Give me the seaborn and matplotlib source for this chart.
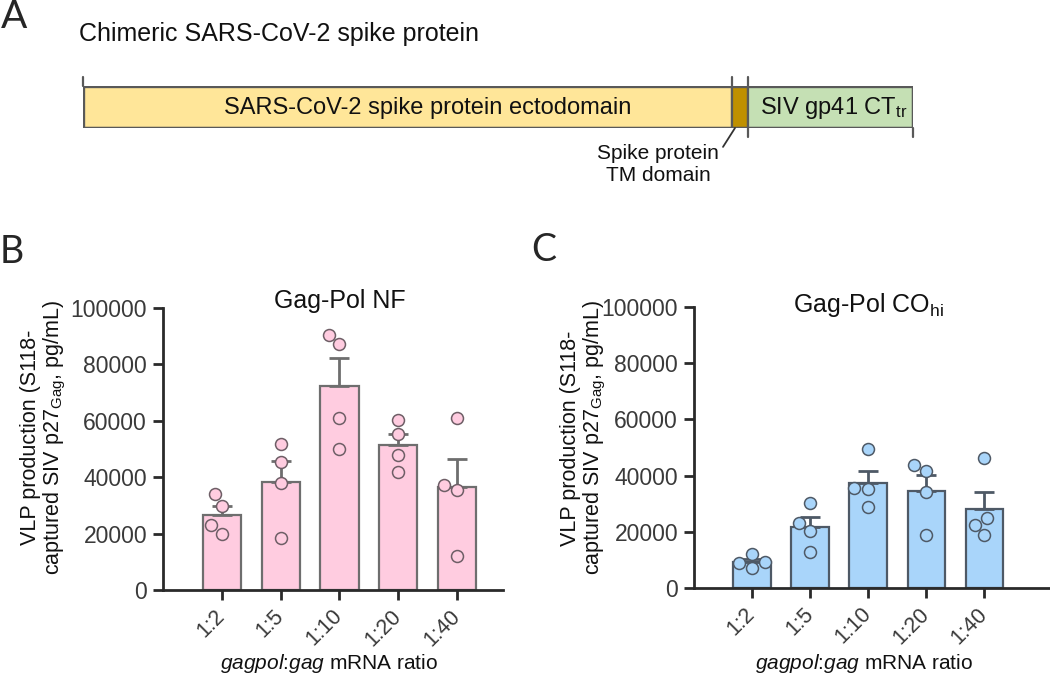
import numpy as np
import pandas as pd
import matplotlib
matplotlib.use("Agg")
import matplotlib.pyplot as plt
import matplotlib.transforms as mtransforms
from matplotlib.patches import Rectangle
import seaborn as sns

# ---- data ----
ratios = ["1:2", "1:5", "1:10", "1:20", "1:40"]
# Gag-Pol NF, 4 replicates per ratio (pg/mL)
nf_vals = [
    [34000, 29900, 23000, 19900],
    [51800, 45400, 37900, 18600],
    [87400, 90500, 60900, 49900],
    [60300, 55400, 47700, 41700],
    [61000, 37100, 35600, 12100],
]
# Gag-Pol CO_hi
co_vals = [
    [12200, 7200, 9100, 8900],
    [30100, 23100, 20400, 12900],
    [49500, 35700, 35300, 28900],
    [41600, 43600, 34000, 18700],
    [46300, 25000, 22300, 18700],
]
y_ticks = [0, 20000, 40000, 60000, 80000, 100000]

# chimeric spike schematic (drawing widths, not to scale)
domain_labels = ["SARS-CoV-2 spike protein ectodomain", "", "SIV gp41 CT$_{\\rm tr}$"]
domain_widths = [649, 16, 165]
domain_colors = ["#FFE699", "#BF9000", "#C5E0B4"]
top_marks = ["1", "1214", "1235"]      # at boundaries 0, 1, 2
bottom_marks = ["710", "745"]          # at boundaries 2, 3

sns.set_style("ticks")
plt.rcParams['font.family'] = ['Liberation Sans', 'DejaVu Sans']
plt.rcParams['mathtext.fontset'] = 'custom'
plt.rcParams['mathtext.rm'] = 'Liberation Sans'
plt.rcParams['mathtext.it'] = 'Liberation Sans:italic'

W, H = 1050, 676
fig = plt.figure(figsize=(W / 100, H / 100), dpi=100)


def px_axes(left, top, right, bottom):
    return fig.add_axes([left / W, 1 - bottom / H, (right - left) / W, (bottom - top) / H])


# ---- panel A ----
dark = "#595959"
axA = px_axes(83, 86, 913, 128)
edges = np.concatenate([[0], np.cumsum(domain_widths)])
for i, w in enumerate(domain_widths):
    axA.add_patch(Rectangle((edges[i], 0), w, 1, facecolor=domain_colors[i],
                            edgecolor=dark, lw=1.6))
axA.add_patch(Rectangle((0, 0), edges[-1], 1, facecolor='none', edgecolor=dark, lw=2.4))
axA.set_xlim(0, edges[-1])
axA.set_ylim(0, 1)
axA.axis('off')

axA.text(edges[0] + 345, 0.47, domain_labels[0], ha='center', va='center', fontsize=17, color='#111111')
axA.text((edges[2] + edges[3]) / 2 + 3, 0.47, domain_labels[2], ha='center', va='center', fontsize=17,
         color='#111111')

for lab, b, ha, dx in zip(top_marks, [0, 1, 2], ['center', 'right', 'left'], [0, 1, -2]):
    axA.plot([edges[b]] * 2, [1, 1.22], color=dark, lw=1.6, clip_on=False)
    axA.annotate(lab, xy=(edges[b], 1.22), xytext=(dx, 0), textcoords='offset points',
                 ha=ha, va='bottom', fontsize=11.5, family='Lato', color='#222222')
for lab, b, dx in zip(bottom_marks, [2, 3], [4, 0]):
    axA.plot([edges[b]] * 2, [0, -0.22], color=dark, lw=1.6, clip_on=False)
    axA.annotate(lab, xy=(edges[b], -0.22), xytext=(dx, -1), textcoords='offset points',
                 ha='center', va='top', fontsize=11.5, family='Lato', color='#222222')

axA.plot([edges[1] + 3, edges[1] - 9], [0, -0.45], color='#333333', lw=1.3, clip_on=False)
axA.text(edges[1] - 74, -0.87, "Spike protein\nTM domain", ha='center', va='center',
         fontsize=15, linespacing=1.2, color='#111111')

fig.text(79 / W, 1 - 34 / H, "Chimeric SARS-CoV-2 spike protein", ha='left', va='center', fontsize=18,
         color='#111111')
fig.text(1 / W, 1 - 17 / H, "A", ha='left', va='center', fontsize=28, family='Lato')
fig.text(0 / W, 1 - 252 / H, "B", ha='left', va='center', fontsize=27, family='Lato')
fig.text(531 / W, 1 - 250 / H, "C", ha='left', va='center', fontsize=27, family='Lato')


# ---- panels B and C ----
def draw_panel(ax, vals, face, edge, dot_face, dot_edge, title, title_y, xlim_right):
    df = pd.DataFrame({"ratio": np.repeat(ratios, [len(v) for v in vals]),
                       "value": np.concatenate(vals)})
    sns.barplot(data=df, x="ratio", y="value", order=ratios, errorbar=None, width=0.65,
                color=face, saturation=1, edgecolor=edge, linewidth=1.6, ax=ax, zorder=1)
    stats = df.groupby("ratio")["value"].agg(["mean", "sem"]).reindex(ratios)
    ax.errorbar(np.arange(len(ratios)), stats["mean"],
                yerr=[np.zeros(len(ratios)), stats["sem"]], fmt='none', ecolor=edge,
                elinewidth=2, capsize=7.5, capthick=2, zorder=2)
    sns.swarmplot(data=df, x="ratio", y="value", order=ratios, color=dot_face,
                  edgecolor=dot_edge, linewidth=1.1, size=8.6, ax=ax, zorder=3)
    ax.set_xlim(-1.0, xlim_right)
    ax.set_ylim(0, 100000)
    ax.set_yticks(y_ticks)
    ax.set_yticklabels([str(t) for t in y_ticks])
    sns.despine(ax=ax)
    for s in ['left', 'bottom']:
        ax.spines[s].set_linewidth(2)
        ax.spines[s].set_color('#2a2a2a')
    ax.tick_params(axis='both', width=2, length=7.5, color='#2a2a2a',
                   labelcolor='#3a3a3a', labelsize=16.5, pad=4)
    ax.tick_params(axis='x', pad=9, labelsize=15.5)
    plt.setp(ax.get_xticklabels(), rotation=45, ha='right', va='center',
             rotation_mode='anchor')
    trans = mtransforms.blended_transform_factory(ax.transData, ax.transAxes)
    ax.text(2, title_y, title, transform=trans, ha='center', va='baseline', fontsize=18,
            color='#111111')
    ax.set_ylabel("VLP production (S118-\ncaptured SIV p27$_{\\rm Gag}$, pg/mL)",
                  fontsize=15.5, linespacing=1.05, color='#111111')
    ax.set_xlabel("$\\mathit{gagpol}$:$\\mathit{gag}$ mRNA ratio", fontsize=15, color='#111111')
    ax.yaxis.label.set_va('center')
    ax.yaxis.label.set_ha('center')
    ax.xaxis.label.set_va('center')
    return ax


axB = px_axes(163, 308, 503, 590)
draw_panel(axB, nf_vals, "#FFCCE0", "#6e6e6e", "#FFCCE0", "#6e5e66", "Gag-Pol NF", 1.0, 4.78)
axB.yaxis.set_label_coords(-0.35, 0.54)
axB.xaxis.set_label_coords(0.488, -0.262)

axC = px_axes(694, 307, 1060, 588)
draw_panel(axC, co_vals, "#A9D5FA", "#4e5966", "#A9D5FA", "#4e5966", "Gag-Pol CO$_{\\rm hi}$", 0.982, 5.3)
axC.yaxis.set_label_coords(-0.30, 0.534)
axC.xaxis.set_label_coords(0.466, -0.27)

fig.savefig("out.png", dpi=100)
